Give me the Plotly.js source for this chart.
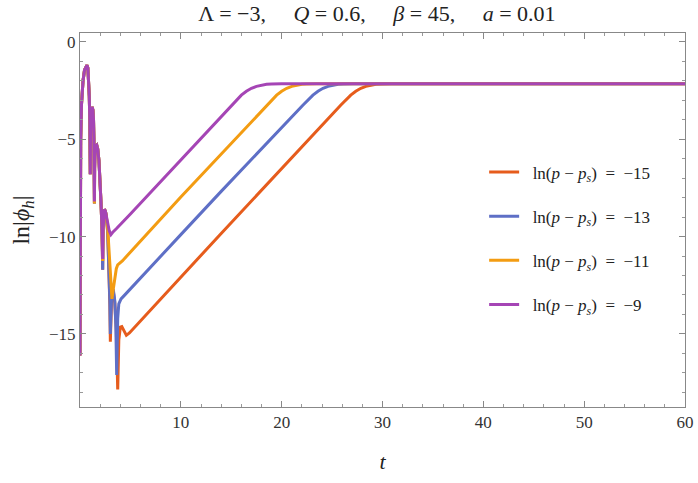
<!DOCTYPE html>
<html>
<head>
<meta charset="utf-8">
<script src="https://cdn.plot.ly/plotly-3.0.1.min.js"></script>
<style>
  html, body { margin: 0; padding: 0; background: #fff; }
  #chart { width: 698px; height: 483px; }
</style>
</head>
<body>
<div id="chart"></div>
<script>
// shared early oscillation (t, ln|phi_h|)
var tEarly = [0, 0.01, 0.03, 0.07, 0.15, 0.3, 0.45, 0.6, 0.69, 0.78, 0.86, 0.92, 0.97, 1.0, 1.02, 1.04, 1.07, 1.12, 1.2, 1.28, 1.34, 1.38, 1.41, 1.43, 1.45, 1.49, 1.56, 1.66, 1.76, 1.88, 1.98, 2.08, 2.18, 2.25, 2.29, 2.34, 2.42, 2.52];
var yEarly = [-16.1, -12, -8, -5, -3.2, -2.0, -1.45, -1.22, -1.2, -1.35, -1.9, -2.8, -4.0, -5.2, -6.8, -5.0, -3.9, -3.45, -3.35, -3.5, -4.0, -5.0, -6.5, -8.2, -6.5, -5.7, -5.35, -5.3, -5.5, -6.1, -7.0, -8.2, -9.6, -11.15, -9.6, -8.9, -8.6, -8.7];

// ln(p - p_s) = -9
var tP9 = [2.62, 2.75, 2.9, 3.07, 3.3, 3.6, 5, 10, 14, 15, 16, 16.5, 17, 17.5, 18, 18.5, 19, 20, 60];
var yP9 = [-8.9, -9.3, -9.7, -9.9, -9.75, -9.6, -8.84, -6.06, -3.82, -3.26, -2.74, -2.54, -2.39, -2.29, -2.22, -2.185, -2.165, -2.15, -2.15];

// ln(p - p_s) = -11
var tP11 = [2.6, 2.75, 2.9, 3.05, 3.17, 3.3, 3.45, 3.6, 3.74, 4.2, 10, 14, 18.5, 19.5, 20, 20.5, 21, 21.5, 22, 22.5, 23.5, 60];
var yP11 = [-8.9, -9.6, -10.8, -12.4, -13.2, -12.7, -12.0, -11.65, -11.45, -11.25, -7.97, -5.75, -3.26, -2.74, -2.54, -2.39, -2.29, -2.22, -2.185, -2.165, -2.15, -2.15];

// ln(p - p_s) = -13
var tP13 = [2.6, 2.75, 2.88, 2.96, 3.01, 3.06, 3.15, 3.3, 3.45, 3.55, 3.64, 3.74, 3.85, 4.07, 4.4, 10, 14, 22.1, 23.1, 23.6, 24.1, 24.6, 25.1, 25.6, 26.1, 27.1, 60];
var yP13 = [-8.9, -9.8, -11.5, -13.3, -15.0, -13.4, -12.8, -12.7, -13.3, -14.5, -17.1, -14.2, -13.45, -13.2, -13.02, -9.9, -7.68, -3.26, -2.74, -2.54, -2.39, -2.29, -2.22, -2.185, -2.165, -2.15, -2.15];

// ln(p - p_s) = -15
var tP15 = [2.6, 2.75, 2.88, 2.96, 3.01, 3.06, 3.15, 3.3, 3.45, 3.6, 3.74, 3.85, 4.0, 4.15, 4.35, 4.6, 4.9, 10, 14, 25.85, 26.85, 27.35, 27.85, 28.35, 28.85, 29.35, 29.85, 30.85, 60];
var yP15 = [-8.9, -9.8, -11.6, -13.5, -15.4, -13.5, -12.9, -12.8, -13.4, -14.8, -17.85, -15.3, -14.65, -14.62, -14.85, -15.07, -14.95, -12.07, -9.84, -3.26, -2.74, -2.54, -2.39, -2.29, -2.22, -2.185, -2.165, -2.15, -2.15];

var labels = ['\u221215', '\u221213', '\u221211', '\u22129'];
var colors = ['#E65C1C', '#5E6FC6', '#F39C12', '#A545B5'];

var curves = [[tP15, yP15], [tP13, yP13], [tP11, yP11], [tP9, yP9]];

var serif = '"Liberation Serif", serif';
var sp = '\u00a0';

var data = curves.map(function (c, i) {
    var dy = yEarly.slice();
    // spikes go slightly deeper for the smaller perturbations
    if (i < 3) { dy[23] = -8.3; dy[33] = (i == 2) ? -11.25 : -11.7; }
    return {
        x: tEarly.concat(c[0]),
        y: dy.concat(c[1]),
        type: 'scatter',
        mode: 'lines',
        line: { color: colors[i], width: 3 },
        name: sp + sp + 'ln(<i>p</i>' + sp + '\u2212' + sp + '<i>p<sub>s</sub></i>)' + sp + sp + '=' + sp + sp + labels[i],
        legendgroup: 'g' + i
    };
});

var layout = {
    width: 698,
    height: 483,
    margin: { l: 80, r: 13, t: 33, b: 76 },
    paper_bgcolor: '#fff',
    plot_bgcolor: '#fff',
    font: { family: serif, color: '#333', size: 15 },
    title: {
        text: '\u039b = \u22123,&nbsp;&nbsp;&nbsp;&nbsp;&nbsp;<i>Q</i> = 0.6,&nbsp;&nbsp;&nbsp;&nbsp;&nbsp;<i>\u03b2</i> = 45,&nbsp;&nbsp;&nbsp;&nbsp;&nbsp;<i>a</i> = 0.01',
        font: { family: serif, size: 22, color: '#222' },
        x: 0.54, xanchor: 'center',
        y: 0.972, yanchor: 'middle'
    },
    xaxis: {
        range: [0, 60],
        tickvals: [10, 20, 30, 40, 50, 60],
        ticks: 'inside', ticklen: 6, tickcolor: '#888',
        minor: { dtick: 2, ticks: 'inside', ticklen: 3, tickcolor: '#999' },
        showgrid: false, zeroline: false,
        showline: true, linecolor: '#888', linewidth: 1, mirror: 'allticks',
        tickfont: { family: serif, size: 17, color: '#333' },
        title: { text: '<i>t</i>', font: { family: serif, size: 22, color: '#222' }, standoff: 22 }
    },
    yaxis: {
        range: [-18.75, 0.45],
        tickvals: [0, -5, -10, -15],
        ticktext: ['0', '\u22125', '\u221210', '\u221215'],
        ticks: 'inside', ticklen: 6, tickcolor: '#888',
        minor: { dtick: 1, ticks: 'inside', ticklen: 3, tickcolor: '#999' },
        showgrid: false, zeroline: false,
        showline: true, linecolor: '#888', linewidth: 1, mirror: 'allticks',
        tickfont: { family: serif, size: 17, color: '#333' },
        title: { text: 'ln|<i>\u03d5<sub>h</sub></i>|', font: { family: serif, size: 24, color: '#222' }, standoff: 12 }
    },
    showlegend: true,
    legend: {
        x: 0.668, xanchor: 'left',
        y: 0.675, yanchor: 'top',
        bgcolor: 'rgba(0,0,0,0)',
        font: { family: serif, size: 17, color: '#222' },
        tracegroupgap: 19,
        itemwidth: 30
    }
};

Plotly.newPlot('chart', data, layout, { displayModeBar: false, staticPlot: true });
</script>
</body>
</html>
